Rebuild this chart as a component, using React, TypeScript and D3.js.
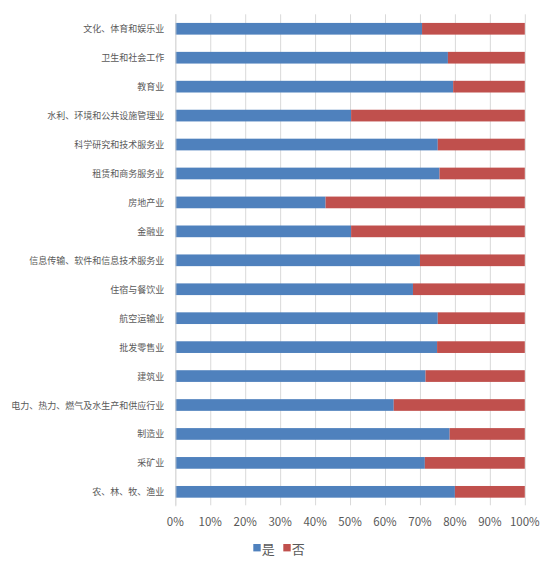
import { useEffect, useRef } from "react";
import * as d3 from "d3";

// categories from top to bottom
const categories = [
  "文化、体育和娱乐业",
  "卫生和社会工作",
  "教育业",
  "水利、环境和公共设施管理业",
  "科学研究和技术服务业",
  "租赁和商务服务业",
  "房地产业",
  "金融业",
  "信息传输、软件和信息技术服务业",
  "住宿与餐饮业",
  "航空运输业",
  "批发零售业",
  "建筑业",
  "电力、热力、燃气及水生产和供应行业",
  "制造业",
  "采矿业",
  "农、林、牧、渔业",
];

// share of "是" (percent); "否" is the rest
const yesValues = [70.6, 78.0, 79.5, 50.3, 75.1, 75.6, 43.0, 50.3, 70.0, 68.0, 75.1, 74.9, 71.6, 62.5, 78.5, 71.4, 80.0];
const noValues = yesValues.map((v) => 100 - v);

const seriesNames = ["是", "否"];
const seriesColors = ["#4F81BD", "#C0504D"];

const W = 553;
const H = 568;
const FONT = '"Noto Sans CJK SC", "Noto Sans", sans-serif';

export default function App() {
  const ref = useRef<SVGSVGElement | null>(null);

  useEffect(() => {
    if (!ref.current) return;
    ref.current.innerHTML = "";

    const margin = { top: 14.3, left: 175.3, right: 28.2, bottom: 61.7 };
    const innerW = W - margin.left - margin.right;
    const innerH = H - margin.top - margin.bottom;

    const svg = d3.select(ref.current);
    const g = svg
      .append("g")
      .attr("transform", `translate(${margin.left},${margin.top})`);

    const x = d3.scaleLinear().domain([0, 100]).range([0, innerW]);
    const y = d3
      .scaleBand<string>()
      .domain(categories)
      .range([0, innerH])
      .paddingInner(0.596)
      .paddingOuter(0.298);

    // vertical gridlines
    g.append("g")
      .selectAll("line")
      .data(x.ticks(10))
      .join("line")
      .attr("x1", (d) => x(d) + 0.5)
      .attr("x2", (d) => x(d) + 0.5)
      .attr("y1", 0)
      .attr("y2", innerH - 1)
      .attr("stroke", "#d9d9d9")
      .attr("stroke-width", 1);

    // tick labels
    g.append("g")
      .selectAll("text")
      .data(x.ticks(10))
      .join("text")
      .attr("x", (d) => x(d))
      .attr("y", innerH + 15)
      .attr("text-anchor", "middle")
      .attr("dominant-baseline", "central")
      .attr("font-family", FONT)
      .attr("font-size", 11.5)
      .attr("fill", "#595959")
      .text((d) => `${d}%`);

    // stacked bars
    const rows = categories.map((c, i) => ({ cat: c, yes: yesValues[i], no: noValues[i] }));
    const stack = d3.stack<(typeof rows)[number]>().keys(["yes", "no"]);
    const layers = stack(rows);
    layers.forEach((layer, li) => {
      g.append("g")
        .attr("fill", seriesColors[li])
        .selectAll("rect")
        .data(layer)
        .join("rect")
        .attr("x", (d) => x(d[0]))
        .attr("width", (d) => x(d[1]) - x(d[0]))
        .attr("y", (d) => y(d.data.cat)!)
        .attr("height", y.bandwidth());
    });

    // left axis line
    g.append("line")
      .attr("x1", 0.5)
      .attr("x2", 0.5)
      .attr("y1", 0)
      .attr("y2", innerH)
      .attr("stroke", "#d9d9d9");

    // category labels
    g.append("g")
      .selectAll("text")
      .data(categories)
      .join("text")
      .attr("x", -11)
      .attr("y", (d) => y(d)! + y.bandwidth() / 2)
      .attr("text-anchor", "end")
      .attr("dominant-baseline", "central")
      .attr("font-family", FONT)
      .attr("font-size", 9)
      .attr("fill", "#595959")
      .text((d) => d);

    // legend
    const legend = svg.append("g");
    const lx = [253.3, 283.3];
    seriesNames.forEach((name, i) => {
      legend
        .append("rect")
        .attr("x", lx[i])
        .attr("y", 544)
        .attr("width", 7.4)
        .attr("height", 7.4)
        .attr("fill", seriesColors[i]);
      legend
        .append("text")
        .attr("x", lx[i] + 8.5)
        .attr("y", 548)
        .attr("dominant-baseline", "central")
        .attr("font-family", FONT)
        .attr("font-size", 13)
        .attr("fill", "#595959")
        .text(name);
    });
  }, []);

  return (
    <div style={{ position: "absolute", left: 0, top: 0 }}>
      <svg ref={ref} width={W} height={H} style={{ display: "block", background: "#fff" }} />
    </div>
  );
}
